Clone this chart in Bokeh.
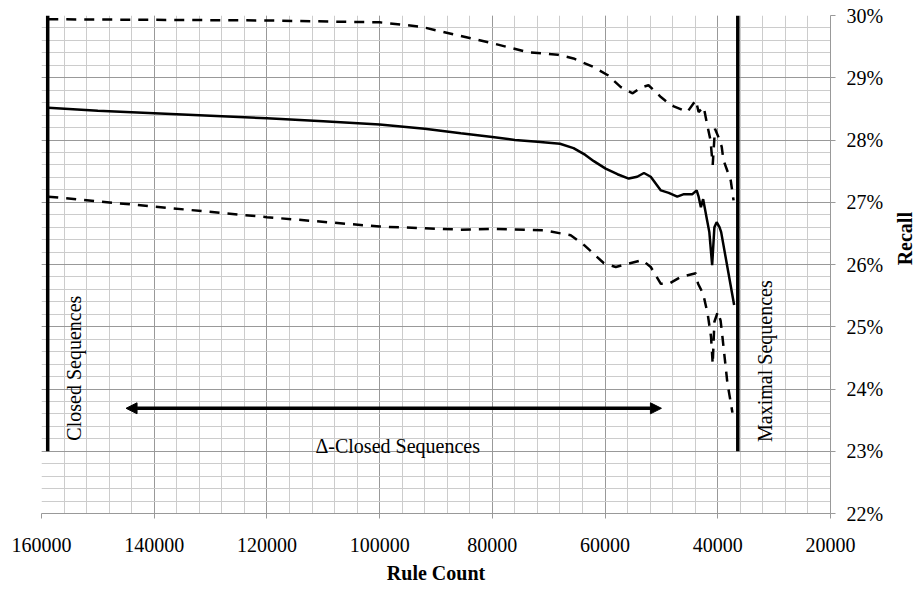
import math
from bokeh.plotting import figure
from bokeh.layouts import row
from bokeh.models import (Range1d, SingleIntervalTicker, PrintfTickFormatter,
                          BasicTickFormatter, Arrow, NormalHead, Label)
from bokeh.embed import file_html
from bokeh.resources import INLINE

# ---- data (rule count vs recall in %) ----
mid_x = [158800, 150000, 140000, 130000, 120000, 110000, 100000, 92000, 85600, 80000,
         76000, 72000, 68000, 65600, 63500, 62000, 59900, 57800, 55800, 54300,
         53100, 51900, 50100, 48700, 47200, 46000, 44500, 43750, 43400, 43000,
         42600, 41900, 41500, 41000, 40600, 40200, 39700, 39400, 37100]
mid_y = [28.52, 28.47, 28.43, 28.39, 28.35, 28.30, 28.25, 28.18, 28.11, 28.05,
         28.00, 27.97, 27.94, 27.87, 27.76, 27.66, 27.54, 27.45, 27.38, 27.41,
         27.47, 27.41, 27.19, 27.15, 27.09, 27.13, 27.13, 27.19, 27.09, 26.92,
         27.05, 26.71, 26.52, 25.99, 26.60, 26.68, 26.60, 26.52, 25.35]

up_x = [158800, 140000, 120000, 100000, 92700, 85600, 79800, 73700, 68400, 65600,
        62000, 59500, 57200, 55100, 53700, 52300, 51000, 50100, 48700, 47800,
        45400, 43900, 43400, 42500, 41800, 41300, 40900, 40500, 39900, 39300,
        39000, 37700, 37200]
up_y = [29.94, 29.93, 29.92, 29.89, 29.82, 29.67, 29.55, 29.41, 29.37, 29.31,
        29.17, 29.04, 28.85, 28.75, 28.84, 28.88, 28.77, 28.69, 28.59, 28.54,
        28.45, 28.64, 28.45, 28.53, 28.21, 28.00, 27.60, 28.18, 28.05, 27.89,
        27.68, 27.35, 27.03]

lo_x = [158800, 140000, 120000, 100000, 85600, 79800, 70900, 66100, 63700, 60200,
        58100, 53400, 51900, 50100, 48700, 46600, 43900, 43500, 42600, 41800,
        41200, 40900, 40600, 40000, 39500, 39200, 38300, 37400]
lo_y = [27.09, 26.93, 26.76, 26.61, 26.56, 26.57, 26.55, 26.47, 26.31, 26.02,
        25.96, 26.07, 25.96, 25.69, 25.69, 25.80, 25.86, 25.69, 25.53, 25.21,
        24.84, 24.40, 25.08, 25.24, 25.10, 24.86, 24.10, 23.62]

# boundary markers and annotations
bound_x = [158900, 36450]
bound_y0 = [23.0, 23.0]
bound_y1 = [30.0, 30.0]
arrow_from_x, arrow_to_x, arrow_y = 145000, 50000, 23.69

x_ticks_interval = 20000
y_ticks_interval = 1

FONT = "Liberation Serif"

p = figure(width=889, height=589, output_backend="svg", toolbar_location=None,
           x_range=Range1d(160000, 20000), y_range=Range1d(22, 30),
           y_axis_location="right",
           min_border_left=41, min_border_top=15, min_border_right=59, min_border_bottom=76)
p.outline_line_color = None
p.background_fill_color = "white"
p.border_fill_color = "white"

xt = SingleIntervalTicker(interval=x_ticks_interval, num_minor_ticks=5)
yt = SingleIntervalTicker(interval=y_ticks_interval, num_minor_ticks=5)
p.xaxis.ticker = xt
p.yaxis.ticker = yt
p.xgrid.ticker = xt
p.ygrid.ticker = yt

for g in (p.xgrid, p.ygrid):
    g.grid_line_color = "#999999"
    g.grid_line_width = 1
    g.minor_grid_line_color = "#cccccc"
    g.minor_grid_line_width = 1

p.xaxis.formatter = BasicTickFormatter(use_scientific=False)
p.yaxis.formatter = PrintfTickFormatter(format="%d%%")

for ax in (p.xaxis[0], p.yaxis[0]):
    ax.axis_line_color = "#999999"
    ax.major_tick_line_color = "#999999"
    ax.minor_tick_line_color = None
    ax.major_tick_in = 0
    ax.major_tick_out = 5
    ax.major_label_text_font = FONT
    ax.major_label_text_font_size = "20px"
    ax.major_label_text_color = "black"
    ax.axis_label_text_font = FONT
    ax.axis_label_text_font_size = "20px"
    ax.axis_label_text_font_style = "bold"
    ax.axis_label_text_color = "black"

p.xaxis.axis_label = "Rule Count"
p.xaxis.major_label_standoff = 19
p.xaxis.axis_label_standoff = 7
p.yaxis.major_label_standoff = 11

# data lines
p.line(up_x, up_y, line_color="black", line_width=2.5, line_dash="10 8")
p.line(lo_x, lo_y, line_color="black", line_width=2.5, line_dash="10 8")
p.line(mid_x, mid_y, line_color="black", line_width=2.5)

# boundary lines
p.segment(x0=bound_x, y0=bound_y0, x1=bound_x, y1=bound_y1, line_color="black", line_width=3.5)

# double arrow
p.add_layout(Arrow(start=NormalHead(size=11, fill_color="black", line_color="black"),
                   end=NormalHead(size=11, fill_color="black", line_color="black"),
                   x_start=arrow_to_x, y_start=arrow_y, x_end=arrow_from_x, y_end=arrow_y,
                   line_color="black", line_width=3.5))

p.add_layout(Label(x=154300, y=23.17, text="Closed Sequences", angle=math.pi / 2,
                   text_align="left", text_baseline="middle", text_font=FONT,
                   text_font_size="20px", text_color="black"))
p.add_layout(Label(x=31700, y=23.15, text="Maximal Sequences", angle=math.pi / 2,
                   text_align="left", text_baseline="middle", text_font=FONT,
                   text_font_size="20px", text_color="black"))
p.add_layout(Label(x=96800, y=23.08, text="\u0394-Closed Sequences",
                   text_align="center", text_baseline="alphabetic", text_font=FONT,
                   text_font_size="20px", text_color="black"))

# right-hand axis title ("Recall"), reading bottom to top
q = figure(width=30, height=589, output_backend="svg", toolbar_location=None,
           x_range=Range1d(0, 30), y_range=Range1d(0, 589),
           x_axis_location=None, y_axis_location=None,
           min_border_left=0, min_border_right=0, min_border_top=0, min_border_bottom=0)
q.outline_line_color = None
q.grid.visible = False
q.background_fill_color = "white"
q.border_fill_color = "white"
q.add_layout(Label(x=15, y=589 - 264, text="Recall", angle=math.pi / 2,
                   text_align="center", text_baseline="middle", text_font=FONT,
                   text_font_size="20px", text_font_style="bold", text_color="black"))

layout = row(p, q, spacing=0)
open("out.html", "w").write(file_html(layout, INLINE))
